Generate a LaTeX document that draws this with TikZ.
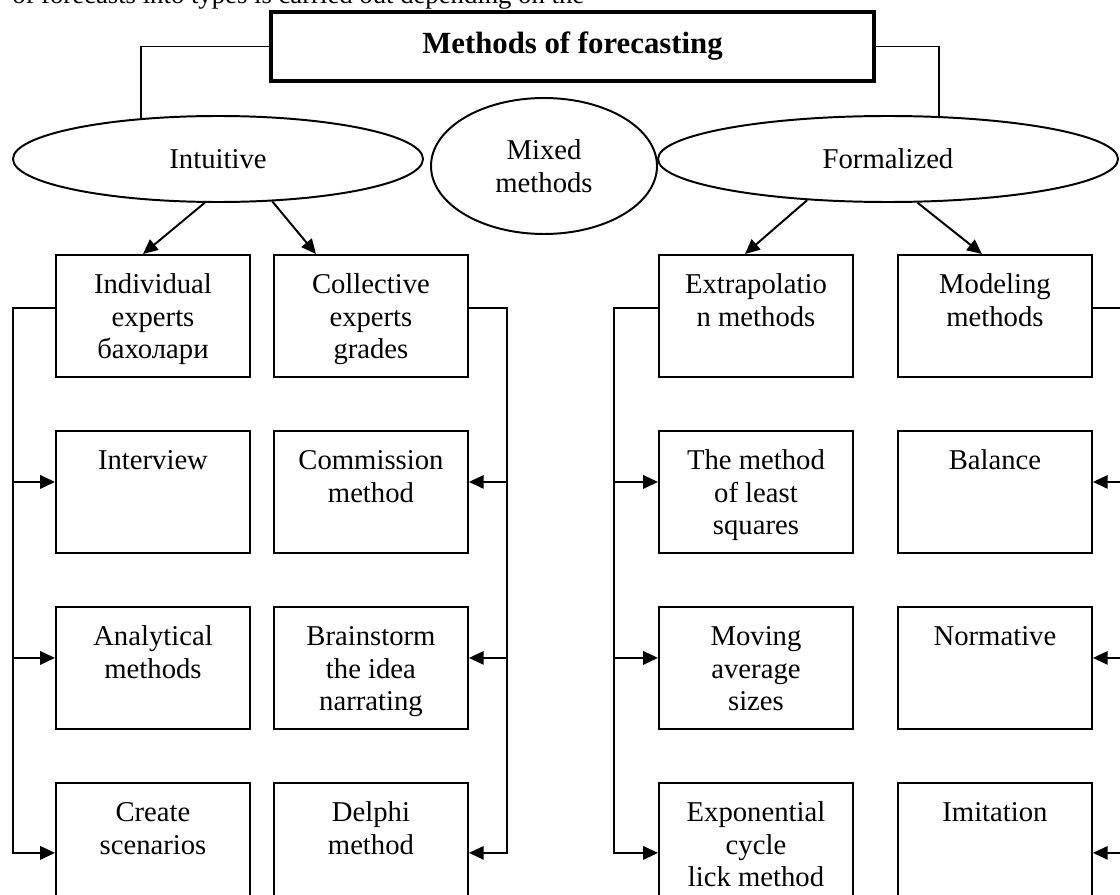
\documentclass[tikz,border=0pt]{standalone}
\usepackage{fontspec}
\setmainfont{Liberation Serif}
\usetikzlibrary{shapes.geometric,arrows.meta,positioning}
\newcommand{\boxlines}[1]{\parbox[c][3.05cm][t]{4.6cm}{\centering\rule{0pt}{0.975cm}#1}}

\begin{document}
\begin{tikzpicture}[node distance=1.3cm,
  methodbox/.style={draw, line width=1.4pt, minimum width=4.85cm, minimum height=3.05cm, inner sep=0pt, font=\fontsize{20.4pt}{23.1pt}\selectfont},
  groupoval/.style={draw, ellipse, line width=1.4pt, inner sep=0pt, align=center, font=\fontsize{20.4pt}{23.1pt}\selectfont},
  link/.style={line width=1.4pt},
  arr/.style={line width=1.4pt, -{Triangle[length=10.5pt,width=9.5pt]}}]
\useasboundingbox (0,0) rectangle (28,-22.375);
\clip (0,0) rectangle (28,-22.375);

% line of the page above the chart
\node[anchor=base west, inner sep=0pt, font=\fontsize{19pt}{22pt}\selectfont] (lead) at (0.3,-0.1) {of forecasts into types is carried out depending on the};

\node[draw, line width=2.6pt, minimum width=15.075cm, minimum height=1.725cm, font=\bfseries\fontsize{21.9pt}{26pt}\selectfont] (title) at (14.3125,-1.1625) {Methods of forecasting};

\node[groupoval, minimum width=10.25cm, minimum height=2.15cm] (intuitive) at (5.45,-3.975) {Intuitive};
\node[groupoval, minimum width=5.65cm, minimum height=3.4cm] (mixed) at (13.6,-4.15) {Mixed\\methods};
\node[groupoval, minimum width=11.5cm, minimum height=2.15cm] (formalized) at (22.2,-3.975) {Formalized};

% intuitive methods
\node[methodbox, anchor=north west] (a1) at (1.375,-6.35) {\boxlines{Individual\\experts\\бахолари}};
\node[methodbox, right=0.55cm of a1] (b1) {\boxlines{Collective\\experts\\grades}};
\node[methodbox, below=of a1] (a2) {\boxlines{Interview}};
\node[methodbox, below=of b1] (b2) {\boxlines{Commission\\method}};
\node[methodbox, below=of a2] (a3) {\boxlines{Analytical\\methods}};
\node[methodbox, below=of b2] (b3) {\boxlines{Brainstorm\\the idea\\narrating}};
\node[methodbox, below=of a3] (a4) {\boxlines{Create\\scenarios}};
\node[methodbox, below=of b3] (b4) {\boxlines{Delphi\\method}};

% formalized methods
\node[methodbox, anchor=north west] (c1) at (16.45,-6.35) {\boxlines{Extrapolatio\\n methods}};
\node[methodbox, right=1.075cm of c1] (d1) {\boxlines{Modeling\\methods}};
\node[methodbox, below=of c1] (c2) {\boxlines{The method\\of least\\squares}};
\node[methodbox, below=of d1] (d2) {\boxlines{Balance}};
\node[methodbox, below=of c2] (c3) {\boxlines{Moving\\average\\sizes}};
\node[methodbox, below=of d2] (d3) {\boxlines{Normative}};
\node[methodbox, below=of c3] (c4) {\boxlines{Exponential\\cycle\\lick method}};
\node[methodbox, below=of d3] (d4) {\boxlines{Imitation}};

\coordinate (lbus) at (0.325,0);
\coordinate (bbus) at (12.675,0);
\coordinate (cbus) at (15.35,0);
\coordinate (dbus) at (28.3,0);

\draw[link] (title.west) -| (intuitive.152);
\draw[link] (title.east) -| (formalized.40);

\draw[arr] (intuitive.253) -- ([xshift=2.2cm]a1.north west);
\draw[arr] (intuitive.322) -- ([xshift=1.075cm]b1.north west);
\draw[arr] (formalized.207) -- ([xshift=2.175cm]c1.north west);
\draw[arr] (formalized.304) -- ([xshift=2.125cm]d1.north west);

\foreach \c/\s/\bus in {a/west/lbus, b/east/bbus, c/west/cbus, d/east/dbus} {
  \draw[arr] ([yshift=2mm]\c1.\s) -- ([yshift=2mm]\c1.\s -| \bus) -- ([yshift=-2.25mm]\c4.\s -| \bus) -- ([yshift=-2.25mm]\c4.\s);
  \draw[arr] ([yshift=2.5mm]\c2.\s -| \bus) -- ([yshift=2.5mm]\c2.\s);
  \draw[arr] ([yshift=2.5mm]\c3.\s -| \bus) -- ([yshift=2.5mm]\c3.\s);
}
\end{tikzpicture}
\end{document}
